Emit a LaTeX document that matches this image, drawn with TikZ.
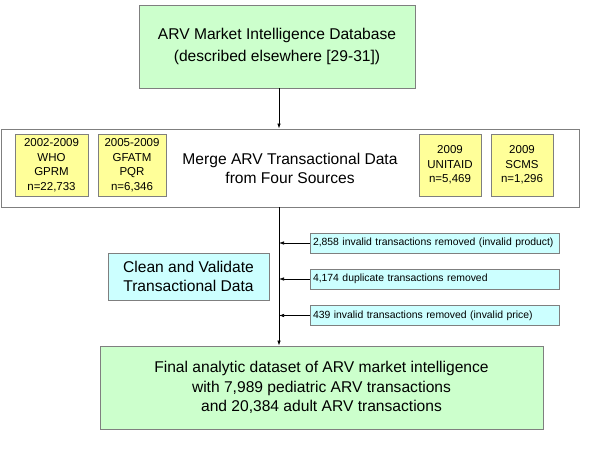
\documentclass[tikz,border=0pt]{standalone}
\usepackage{fontspec}
\setmainfont{Liberation Sans}
\usetikzlibrary{arrows.meta}
\definecolor{boxgreen}{HTML}{CCFFCC}
\definecolor{boxyellow}{HTML}{FFFF99}
\definecolor{boxcyan}{HTML}{CCFFFF}
\definecolor{edge}{HTML}{7F7F7F}
\begin{document}
\begin{tikzpicture}[x=1pt,y=-1pt,
  box/.style={draw=edge,line width=0.9pt,inner sep=0pt,align=center,anchor=center},
  greenbox/.style={box,fill=boxgreen,font=\fontsize{15.6}{22}\selectfont},
  srcbox/.style={box,fill=boxyellow,minimum height=62pt,font=\fontsize{11.5}{14.5}\selectfont},
  cyanbox/.style={box,fill=boxcyan},
  remobox/.style={cyanbox,minimum width=249pt,minimum height=20pt,font=\fontsize{10.4}{11}\selectfont,text width=243pt,align=left},
  arr/.style={-{Latex[length=5pt,width=3.5pt]},line width=0.7pt}]
\useasboundingbox (0,0) rectangle (600,450);
\node[greenbox,minimum width=276pt,minimum height=83pt] (db) at (277,46.5)
  {ARV Market Intelligence Database\\(described elsewhere [29-31])};
\node[box,fill=white,minimum width=578pt,minimum height=78pt] (merge) at (290,168) {};
\node[font=\fontsize{15.6}{19}\selectfont,align=center] (mergetxt) at (290,168.5)
  {Merge ARV Transactional Data\\from Four Sources};
\node[srcbox,minimum width=73pt] (who) at (51.5,165) {2002-2009\\WHO\\GPRM\\n=22,733};
\node[srcbox,minimum width=68pt] (gfatm) at (132,165) {2005-2009\\GFATM\\PQR\\n=6,346};
\node[srcbox,minimum width=62pt] (unitaid) at (450,165) {2009\\UNITAID\\n=5,469};
\node[srcbox,minimum width=62pt] (scms) at (522,165) {2009\\SCMS\\n=1,296};
\node[cyanbox,minimum width=161pt,minimum height=47pt,font=\fontsize{15.6}{19}\selectfont] (clean) at (188.5,276.5)
  {Clean and Validate\\Transactional Data};
\node[remobox] (r1) at (434.5,243) {2,858 invalid transactions removed (invalid product)};
\node[remobox] (r2) at (434.5,279) {4,174 duplicate transactions removed};
\node[remobox] (r3) at (434.5,315.5) {439 invalid transactions removed (invalid price)};
\node[greenbox,minimum width=443pt,minimum height=83pt,font=\fontsize{15.6}{19.5}\selectfont] (final) at (321.5,387.5)
  {Final analytic dataset of ARV market intelligence\\with 7,989 pediatric ARV transactions\\and 20,384 adult ARV transactions};
\coordinate (v) at (279,0);
\draw[arr] (db.south -| v) -- (merge.north -| v);
\draw[arr] (merge.south -| v) -- (final.north -| v);
\draw[arr] (r1.west) -- (r1.west -| v);
\draw[arr] (r2.west) -- (r2.west -| v);
\draw[arr] (r3.west) -- (r3.west -| v);
\end{tikzpicture}
\end{document}
